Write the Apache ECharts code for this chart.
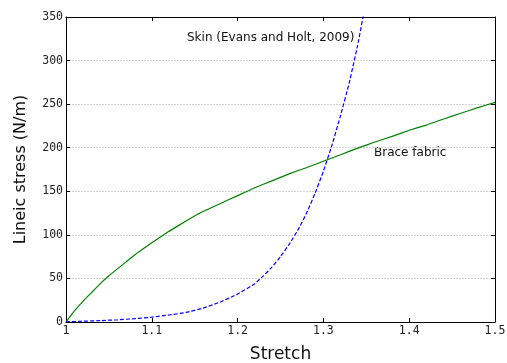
<!DOCTYPE html>
<html>
<head>
<meta charset="utf-8">
<script src="https://cdn.jsdelivr.net/npm/echarts@6/dist/echarts.min.js"></script>
<style>
  html, body { margin: 0; padding: 0; background: #fff; }
  #main { width: 507px; height: 363px; }
</style>
</head>
<body>
<div id="main"></div>
<script>
// stretch values and lineic stress (N/m)
var braceStretch = [1.00, 1.01, 1.02, 1.03, 1.04, 1.05, 1.06, 1.07, 1.08, 1.09, 1.10,
    1.12, 1.14, 1.16, 1.18, 1.20, 1.22, 1.24, 1.26, 1.28, 1.30, 1.32, 1.34, 1.36,
    1.38, 1.40, 1.42, 1.44, 1.46, 1.48, 1.50];
var braceStress = [0, 13, 24, 34, 44, 53, 61, 69, 77, 84, 91,
    104, 116, 127, 136, 145, 154, 162, 170, 177, 184.5, 192, 199.5, 206.5,
    213, 220, 226, 233, 239.5, 246, 252];

var skinStretch = [1.00, 1.02, 1.04, 1.06, 1.08, 1.10, 1.12, 1.14, 1.16, 1.18, 1.20,
    1.22, 1.23, 1.24, 1.25, 1.26, 1.27, 1.28, 1.29, 1.30, 1.31, 1.32, 1.33, 1.34, 1.35];
var skinStress = [0.3, 0.9, 1.6, 2.5, 3.8, 5.5, 8, 11, 16, 23, 32,
    44, 53, 63, 75, 89, 105, 124, 147, 173, 203, 237, 274, 318, 370];

var xTicks = [1, 1.1, 1.2, 1.3, 1.4, 1.5];
var yTicks = [0, 50, 100, 150, 200, 250, 300, 350];

function pairs(xs, ys) {
    var out = [];
    for (var i = 0; i < xs.length; i++) out.push([xs[i], ys[i]]);
    return out;
}

var myChart = echarts.init(document.getElementById('main'));

var tickFont = { color: '#222', fontFamily: 'DejaVu Sans Mono', fontSize: 11.5 };
var frameLine = { onZero: false, lineStyle: { color: '#000', width: 1 } };
var innerTick = { inside: true, length: 4, lineStyle: { color: '#000' } };

var option = {
    backgroundColor: '#fff',
    animation: false,
    grid: { left: 66, right: 12, top: 17, bottom: 41, outerBoundsMode: 'none', containLabel: false },
    xAxis: [{
        type: 'value',
        min: xTicks[0], max: xTicks[xTicks.length - 1], interval: 0.1,
        name: 'Stretch',
        nameLocation: 'middle',
        nameGap: 24,
        nameTextStyle: { color: '#111', fontFamily: 'DejaVu Sans', fontSize: 17 },
        axisLine: frameLine,
        axisTick: innerTick,
        axisLabel: Object.assign({
            margin: 3,
            formatter: function (v) {
                var s = Math.round(v * 10) / 10;
                return s === 1 ? '1' : String(s);
            }
        }, tickFont),
        splitLine: { show: false }
    }, {
        type: 'value',
        position: 'top',
        min: xTicks[0], max: xTicks[xTicks.length - 1], interval: 0.1,
        axisLine: frameLine,
        axisTick: innerTick,
        axisLabel: { show: false },
        splitLine: { show: false }
    }],
    yAxis: [{
        type: 'value',
        min: yTicks[0], max: yTicks[yTicks.length - 1], interval: 50,
        name: 'Lineic stress (N/m)',
        nameLocation: 'middle',
        nameRotate: 90,
        nameGap: 37,
        nameTextStyle: { color: '#111', fontFamily: 'DejaVu Sans', fontSize: 16 },
        axisLine: frameLine,
        axisTick: innerTick,
        axisLabel: Object.assign({ margin: 3 }, tickFont),
        splitLine: { show: true, lineStyle: { color: '#d2d2d2', type: [2, 1], width: 1 } }
    }, {
        type: 'value',
        position: 'right',
        min: yTicks[0], max: yTicks[yTicks.length - 1], interval: 50,
        axisLine: frameLine,
        axisTick: innerTick,
        axisLabel: { show: false },
        splitLine: { show: false }
    }],
    series: [{
        name: 'Brace fabric',
        type: 'line',
        data: pairs(braceStretch, braceStress),
        smooth: 0.1,
        showSymbol: false,
        lineStyle: { color: '#008000', width: 1.2 }
    }, {
        name: 'Skin (Evans and Holt, 2009)',
        type: 'line',
        data: pairs(skinStretch, skinStress),
        smooth: 0.1,
        showSymbol: false,
        clip: true,
        lineStyle: { color: '#0000ff', width: 1.2, type: [4, 2] }
    }],
    graphic: [{
        type: 'text',
        left: 187, top: 32,
        style: { text: 'Skin (Evans and Holt, 2009)', fill: '#111',
                 font: '12px "DejaVu Sans"' }
    }, {
        type: 'text',
        left: 374, top: 147,
        style: { text: 'Brace fabric', fill: '#111',
                 font: '12px "DejaVu Sans"' }
    }]
};

myChart.setOption(option);
</script>
</body>
</html>
